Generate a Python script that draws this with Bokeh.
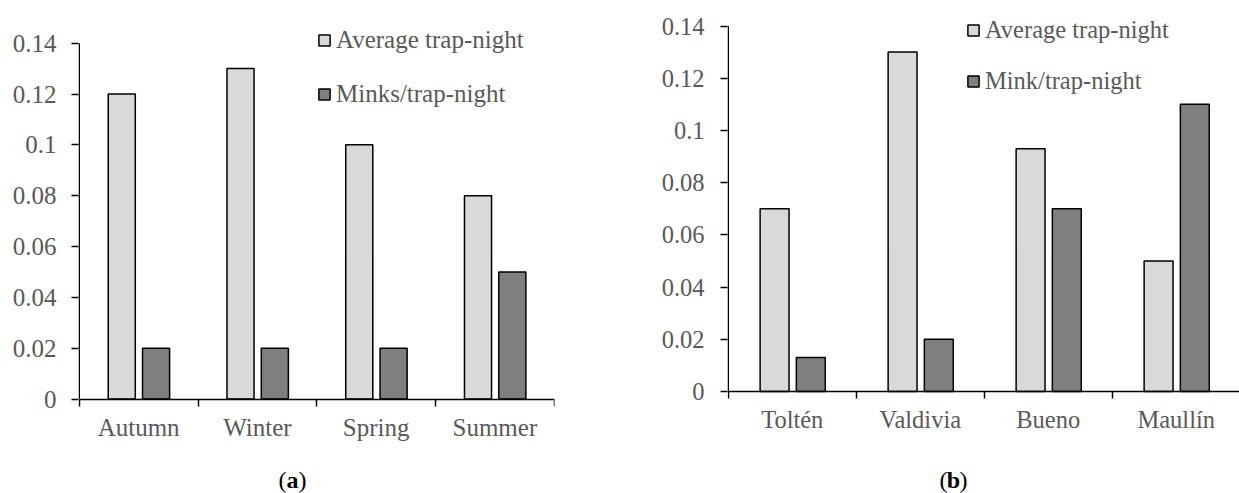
from bokeh.plotting import figure
from bokeh.layouts import row
from bokeh.models import (FixedTicker, Legend, LegendItem, Label, ColumnDataSource, Range1d)
from bokeh.transform import dodge
from bokeh.embed import file_html
from bokeh.resources import INLINE

# ---------------- data ----------------
seasons = ["Autumn", "Winter", "Spring", "Summer"]
avg_trap_night_a = [0.12, 0.13, 0.10, 0.08]
minks_per_trap_night_a = [0.02, 0.02, 0.02, 0.05]

rivers = ["Toltén", "Valdivia", "Bueno", "Maullín"]
avg_trap_night_b = [0.07, 0.13, 0.093, 0.05]
mink_per_trap_night_b = [0.013, 0.02, 0.07, 0.11]

series_names_a = ["Average trap-night", "Minks/trap-night"]
series_names_b = ["Average trap-night", "Mink/trap-night"]

y_ticks = [0, 0.02, 0.04, 0.06, 0.08, 0.1, 0.12, 0.14]
y_tick_labels = ["0", "0.02", "0.04", "0.06", "0.08", "0.1", "0.12", "0.14"]

# ---------------- style ----------------
FONT = "Liberation Serif"
TXT = "#595959"
LIGHT = "#d9d9d9"
DARK = "#7f7f7f"
H = 493


def make_panel(cats, light, dark, names, fl, fw, fr, xr, yr, offs, bw,
               leg_xy, leg_spacing, fs, y_stand, x_stand, letter, cap_xy):
    # the frame fills the whole height; the x axis sits at y = 0 inside it
    p = figure(frame_width=fw, frame_height=H,
               min_border_left=fl, min_border_right=fr,
               min_border_top=0, min_border_bottom=0,
               x_range=Range1d(*xr), y_range=Range1d(*yr),
               output_backend="svg", toolbar_location=None, tools="",
               title=None)
    p.outline_line_color = None
    p.xgrid.visible = False
    p.ygrid.visible = False
    p.background_fill_color = "white"
    p.border_fill_color = "white"

    centers = [i + 0.5 for i in range(len(cats))]
    src = ColumnDataSource(dict(c=centers, light=light, dark=dark))
    r1 = p.vbar(x=dodge("c", offs[0]), top="light", width=bw, source=src,
                fill_color=LIGHT, line_color="black", line_width=1.5)
    r2 = p.vbar(x=dodge("c", offs[1]), top="dark", width=bw, source=src,
                fill_color=DARK, line_color="black", line_width=1.5)

    # vertical axis line from the first to the last tick
    p.segment(x0=[0], y0=[y_ticks[0]], x1=[0], y1=[y_ticks[-1]],
              line_color="black", line_width=1.5)

    # x axis: labels at centres, ticks at category boundaries, line at y = 0
    xa = p.xaxis[0]
    xa.fixed_location = 0
    xa.bounds = (0, len(cats))
    xa.ticker = FixedTicker(ticks=centers, minor_ticks=list(range(len(cats) + 1)))
    xa.major_label_overrides = {c: n for c, n in zip(centers, cats)}
    xa.major_tick_in = 0
    xa.major_tick_out = 0
    xa.major_tick_line_color = None
    xa.minor_tick_in = 0
    xa.minor_tick_out = 7
    xa.minor_tick_line_color = "black"
    xa.minor_tick_line_width = 1.5
    xa.axis_line_color = "black"
    xa.axis_line_width = 1.5
    xa.major_label_text_font = FONT
    xa.major_label_text_font_size = fs
    xa.major_label_text_color = TXT
    xa.major_label_standoff = x_stand

    ya = p.yaxis[0]
    ya.ticker = FixedTicker(ticks=y_ticks, minor_ticks=[])
    ya.major_label_overrides = dict(zip(y_ticks, y_tick_labels))
    ya.major_tick_in = 0
    ya.major_tick_out = 7
    ya.major_tick_line_color = "black"
    ya.major_tick_line_width = 1.5
    ya.minor_tick_line_color = None
    ya.axis_line_color = None
    ya.major_label_text_font = FONT
    ya.major_label_text_font_size = fs
    ya.major_label_text_color = TXT
    ya.major_label_standoff = y_stand

    leg = Legend(items=[LegendItem(label=names[0], renderers=[r1]),
                        LegendItem(label=names[1], renderers=[r2])],
                 location=leg_xy)
    leg.background_fill_alpha = 0
    leg.border_line_alpha = 0
    leg.padding = 0
    leg.margin = 0
    leg.glyph_width = 14
    leg.glyph_height = 14
    leg.label_standoff = 5
    leg.spacing = leg_spacing
    leg.label_text_font = FONT
    leg.label_text_font_size = fs
    leg.label_text_color = TXT
    leg.label_text_baseline = "middle"
    p.add_layout(leg)

    # caption "(a)" / "(b)" with a bold letter
    cx, cy = cap_xy
    common = dict(y=cy, x_units="screen", y_units="screen", text_font=FONT,
                  text_font_size="24px", text_color="black", text_baseline="middle")
    p.add_layout(Label(x=cx - 6, text="(", text_align="right", **common))
    p.add_layout(Label(x=cx, text=letter, text_align="center",
                       text_font_style="bold", **common))
    p.add_layout(Label(x=cx + 6, text=")", text_align="left", **common))
    return p


# left panel: 118.75 px per category, 2541.4 px per unit of y
p1 = make_panel(seasons, avg_trap_night_a, minks_per_trap_night_a, series_names_a,
                fl=78, fw=476, fr=66,
                xr=(-0.75 / 118.75, 4 + 0.25 / 118.75),
                yr=(-(H - 398.5) / 2541.4, 398.5 / 2541.4),
                offs=(-0.142, 0.147), bw=0.228,
                leg_xy=(239, 385), leg_spacing=26, fs="25px",
                y_stand=15, x_stand=8, letter="a", cap_xy=(214, 14))
# right panel: 128 px per category, 2610.7 px per unit of y
p2 = make_panel(rivers, avg_trap_night_b, mink_per_trap_night_b, series_names_b,
                fl=107, fw=512, fr=0,
                xr=(-0.75 / 128, 4 - 0.75 / 128),
                yr=(-(H - 391) / 2610.7, 391 / 2610.7),
                offs=(-0.138, 0.145), bw=0.226,
                leg_xy=(239, 398), leg_spacing=23, fs="24.5px",
                y_stand=16, x_stand=7, letter="b", cap_xy=(226, 14))

layout = row(p1, p2)
open("out.html", "w").write(file_html(layout, INLINE))
